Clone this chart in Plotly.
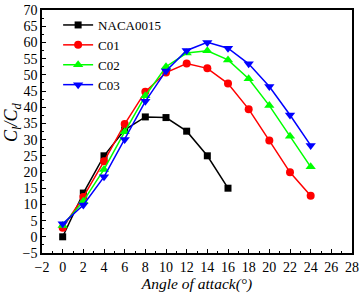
import plotly.graph_objects as go

angles = [0, 2, 4, 6, 8, 10, 12, 14, 16, 18, 20, 22, 24]
naca_angles = [0, 2, 4, 6, 8, 10, 12, 14, 16]
naca0015 = [0, 13.5, 25, 33, 37, 36.8, 32.6, 25, 15]
c01 = [2.8, 12.3, 23.3, 34.8, 44.8, 50.7, 53.5, 52, 47.3, 39.4, 29.7, 19.9, 12.7]
c02 = [3.5, 11, 20.8, 32.4, 43.5, 52.5, 56.7, 57.4, 54.6, 48.8, 40.5, 31, 21.6]
c03 = [4, 9.8, 18.5, 30, 41.8, 51.2, 57.5, 60, 58.2, 53.4, 46.4, 37.6, 28.2]

x_ticks = list(range(-2, 29, 2))
y_ticks = list(range(-5, 71, 5))

FONT = "Liberation Serif, Times New Roman, serif"

fig = go.Figure()
series = [
    ("NACA0015", naca_angles, naca0015, "#000000", "square", 7),
    ("C01", angles, c01, "#ff0000", "circle", 8),
    ("C02", angles, c02, "#00ff00", "triangle-up", 9),
    ("C03", angles, c03, "#0000ff", "triangle-down", 9),
]
for name, xs, ys, col, sym, sz in series:
    fig.add_trace(go.Scatter(
        x=xs, y=ys, name=name, mode="lines+markers",
        line=dict(color=col, width=1.5),
        marker=dict(symbol=sym, size=sz, color=col),
    ))

axis_common = dict(
    showline=True, linecolor="black", linewidth=1.5, mirror=True,
    ticks="inside", tickcolor="black", ticklen=4, tickwidth=1,
    showgrid=False, zeroline=False, automargin=False,
    ticklabeloverflow="allow",
    tickfont=dict(family=FONT, size=14, color="black"),
)

fig.update_layout(
    width=361, height=295,
    margin=dict(l=42, r=9, t=10, b=42),
    paper_bgcolor="white", plot_bgcolor="white",
    font=dict(family=FONT, color="black"),
    xaxis=dict(
        range=[-2, 28], tickvals=x_ticks,
        minor=dict(ticks="inside", ticklen=2, tickcolor="black", dtick=1, tick0=-2),
        title=dict(text="<i>Angle of attack(°)</i>", font=dict(family=FONT, size=15.5), standoff=3),
        **axis_common,
    ),
    yaxis=dict(
        range=[-5, 70], tickvals=y_ticks,
        minor=dict(ticks="inside", ticklen=2, tickcolor="black", dtick=2.5, tick0=-5),
        **axis_common,
    ),
    legend=dict(
        x=0.052, y=1.0, xanchor="left", yanchor="top",
        bgcolor="rgba(0,0,0,0)", borderwidth=0,
        font=dict(family=FONT, size=13, color="black"),
        tracegroupgap=0, itemwidth=30,
    ),
    showlegend=True,
    annotations=[dict(
        text="<i>C<sub>l</sub>/C<sub>d</sub></i>",
        xref="paper", yref="paper", x=-0.093, y=0.54,
        xanchor="center", yanchor="middle", textangle=-90,
        showarrow=False, font=dict(family=FONT, size=18, color="black"),
    )],
)

# remove the browser's default 8px body margin so the figure sits at the page origin
fig.write_html(
    "out.html",
    config={"displayModeBar": False},
    post_script="document.body.style.margin='0';",
)
